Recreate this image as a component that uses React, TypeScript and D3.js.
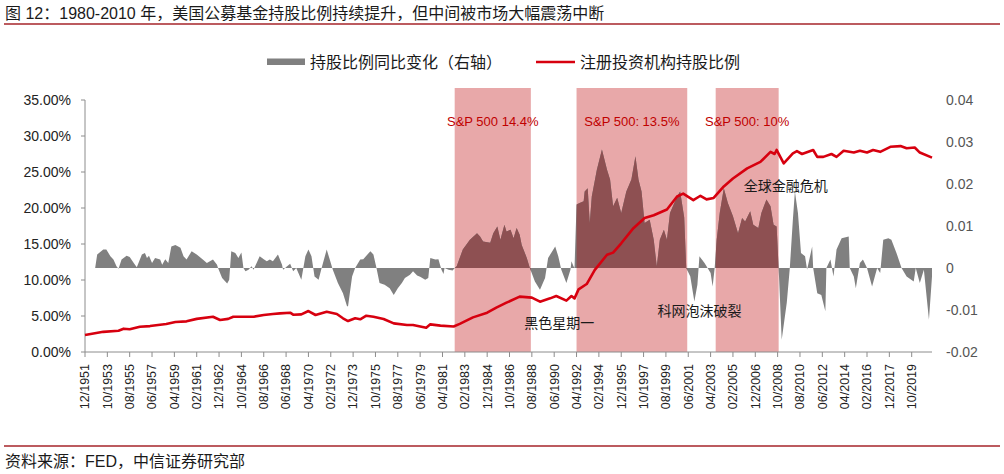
import React from "react";
import * as d3 from "d3";

const titleText = "图 12：1980-2010 年，美国公募基金持股比例持续提升，但中间被市场大幅震荡中断";
const sourceText = "资料来源：FED，中信证券研究部";
const legendLabels = ["持股比例同比变化（右轴）", "注册投资机构持股比例"];

const xTickLabels = [
  "12/1951", "10/1953", "08/1955", "06/1957", "04/1959", "02/1961", "12/1962", "10/1964",
  "08/1966", "06/1968", "04/1970", "02/1972", "12/1973", "10/1975", "08/1977", "06/1979",
  "04/1981", "02/1983", "12/1984", "10/1986", "08/1988", "06/1990", "04/1992", "02/1994",
  "12/1995", "10/1997", "08/1999", "06/2001", "04/2003", "02/2005", "12/2006", "10/2008",
  "08/2010", "06/2012", "04/2014", "02/2016", "12/2017", "10/2019",
];
const leftTicks = [0, 5, 10, 15, 20, 25, 30, 35];
const rightTicks = [-0.02, -0.01, 0, 0.01, 0.02, 0.03, 0.04];
const rightTickLabels = ["-0.02", "-0.01", "0", "0.01", "0.02", "0.03", "0.04"];

const periodStarts = ["1982-04", "1992-04", "2003-09"];
const periodEnds = ["1988-07", "2001-05", "2008-11"];
const periodLabels = ["S&P 500 14.4%", "S&P 500: 13.5%", "S&P 500: 10%"];

const eventDates = ["1990-11", "2002-05", "2009-06"];
const eventLevels = [4.0, 5.7, 23.05];
const eventLabels = ["黑色星期一", "科网泡沫破裂", "全球金融危机"];

// 注册投资机构持股比例 (%)
const shareDates = [
  "1951-12", "1953-06", "1954-09", "1955-02", "1955-08", "1956-06", "1957-04", "1958-08", "1959-05", "1960-04",
  "1961-02", "1962-06", "1963-01", "1963-09", "1964-02", "1965-10", "1966-08", "1967-05", "1967-12", "1968-10",
  "1969-01", "1969-09", "1970-04", "1970-11", "1971-10", "1972-08", "1973-02", "1973-07", "1974-02", "1974-07",
  "1975-01", "1975-08", "1976-06", "1977-04", "1978-05", "1978-11", "1979-12", "1980-04", "1981-02", "1982-03",
  "1982-09", "1983-10", "1984-12", "1985-09", "1986-07", "1987-08", "1988-08", "1989-04", "1990-02", "1990-08",
  "1991-06", "1991-11", "1992-02", "1992-06", "1993-02", "1993-10", "1994-10", "1995-04", "1995-12", "1996-12",
  "1997-11", "1998-08", "1999-09", "2000-07", "2001-01", "2001-11", "2002-06", "2002-12", "2003-07", "2004-05",
  "2005-02", "2006-04", "2007-05", "2008-03", "2008-07", "2008-09", "2009-04", "2010-01", "2010-05", "2010-10",
  "2011-09", "2012-01", "2012-07", "2013-03", "2013-08", "2014-03", "2015-01", "2015-07", "2016-02", "2016-08",
  "2017-03", "2018-01", "2018-11", "2019-05", "2020-01", "2020-06", "2021-06",
];
const shareValues = [
  2.36, 2.8, 2.96, 3.24, 3.15, 3.5, 3.6, 3.9, 4.17, 4.26,
  4.6, 4.9, 4.44, 4.6, 4.9, 4.9, 5.14, 5.28, 5.37, 5.46,
  5.18, 5.23, 5.69, 5.14, 5.6, 5.28, 4.68, 4.3, 4.68, 4.54,
  5.04, 4.9, 4.58, 3.98, 3.75, 3.75, 3.38, 3.84, 3.66, 3.55,
  3.9, 4.81, 5.46, 6.16, 6.85, 7.69, 7.55, 6.99, 7.45, 7.78,
  7.13, 7.78, 7.45, 8.7, 9.44, 11.4, 13.5, 13.8, 15.1, 17.2,
  18.6, 19.0, 19.8, 21.6, 22.0, 21.1, 21.7, 21.2, 21.4, 23.0,
  24.1, 25.5, 26.4, 27.8, 27.5, 28.06, 26.2, 27.6, 27.9, 27.5,
  28.06, 27.1, 27.1, 27.5, 27.1, 27.96, 27.7, 27.96, 27.7, 28.06,
  27.8, 28.5, 28.6, 28.3, 28.4, 27.7, 27.0,
];

// 持股比例同比变化 (右轴)
const yoyDates = [
  "1952-10", "1952-12", "1953-06", "1953-09", "1954-01", "1954-04", "1954-07", "1954-09", "1954-12", "1955-05",
  "1955-08", "1955-12", "1956-03", "1956-08", "1956-11", "1957-01", "1957-03", "1957-06", "1957-09", "1958-02",
  "1958-04", "1958-07", "1958-10", "1959-01", "1959-05", "1959-10", "1960-01", "1960-04", "1960-09", "1961-02",
  "1961-08", "1961-12", "1962-06", "1962-10", "1962-11", "1963-03", "1963-08", "1963-10", "1963-12", "1964-04",
  "1964-07", "1964-10", "1964-12", "1965-02", "1965-05", "1965-08", "1965-10", "1966-01", "1966-04", "1966-08",
  "1966-11", "1967-02", "1967-05", "1967-10", "1968-02", "1968-03", "1968-07", "1968-10", "1969-01", "1969-04",
  "1969-09", "1970-01", "1970-04", "1970-07", "1970-10", "1971-02", "1971-05", "1971-10", "1972-01", "1972-04",
  "1972-09", "1973-02", "1973-06", "1973-07", "1973-11", "1974-02", "1974-07", "1974-10", "1975-05", "1975-08",
  "1975-11", "1976-02", "1976-07", "1976-12", "1977-04", "1977-08", "1977-12", "1978-03", "1978-08", "1978-11",
  "1979-03", "1979-06", "1979-11", "1980-02", "1980-03", "1980-04", "1980-09", "1980-12", "1981-03", "1981-05",
  "1981-06", "1981-10", "1982-02", "1982-04", "1982-06", "1982-12", "1983-07", "1984-02", "1984-05", "1984-08",
  "1985-03", "1985-06", "1985-10", "1986-01", "1986-05", "1986-07", "1986-11", "1987-02", "1987-05", "1987-08",
  "1987-10", "1988-03", "1988-06", "1988-11", "1989-04", "1989-09", "1989-12", "1990-07", "1990-10", "1991-01",
  "1991-06", "1991-10", "1991-11", "1992-01", "1992-02", "1992-04", "1992-07", "1992-11", "1992-12", "1993-03",
  "1993-05", "1993-07", "1993-12", "1994-05", "1994-10", "1995-01", "1995-04", "1995-08", "1995-12", "1996-05",
  "1996-10", "1997-02", "1997-05", "1997-08", "1997-11", "1998-04", "1998-08", "1998-11", "1999-02", "1999-06",
  "1999-09", "1999-12", "2000-07", "2000-10", "2001-02", "2001-04", "2001-08", "2001-12", "2002-03", "2002-05",
  "2002-10", "2002-12", "2003-04", "2003-06", "2003-08", "2003-10", "2004-01", "2004-05", "2004-09", "2005-02",
  "2005-07", "2005-11", "2006-02", "2006-07", "2006-10", "2007-03", "2007-06", "2007-11", "2008-03", "2008-06",
  "2008-09", "2008-11", "2009-02", "2009-07", "2009-10", "2010-01", "2010-03", "2010-06", "2010-09", "2011-01",
  "2011-03", "2011-08", "2011-09", "2012-01", "2012-05", "2012-09", "2012-10", "2013-02", "2013-05", "2013-08",
  "2014-01", "2014-08", "2014-09", "2015-01", "2015-03", "2015-07", "2015-10", "2016-02", "2016-07", "2016-12",
  "2017-03", "2017-06", "2017-11", "2018-02", "2018-07", "2018-12", "2019-05", "2019-12", "2020-02", "2020-06",
  "2020-10", "2021-03", "2021-06",
];
const yoyValues = [
  0, 0.0032, 0.0044, 0.0044, 0.0028, 0.002, 0.0004, -0.0002, 0.002, 0.0029,
  0.0026, 0.0012, 0.0002, 0.0032, 0.0036, 0.0024, 0.0029, 0.0012, 0.0024, 0.002,
  0.0008, 0.0021, 0.0012, 0.0051, 0.0055, 0.0048, 0.0028, 0.002, 0.004, 0.0032,
  0.002, 0.0012, 0.002, 0.0008, 0, -0.0024, -0.0037, -0.0028, 0.004, 0.0036,
  0.0024, 0.0037, 0, -0.0008, -0.0004, 0.0004, -0.0004, 0.0012, 0.0028, 0.0021,
  0.0016, 0.002, 0.0016, 0.0032, 0.0008, -0.0004, 0.0004, 0.001, -0.0008, 0,
  -0.0028, 0.0028, 0.0044, 0.0028, -0.002, -0.0028, 0, 0.0044, 0.002, -0.0004,
  -0.0036, -0.006, -0.0091, -0.0091, -0.002, 0, 0.002, 0.0021, 0.004, 0.0032,
  0, -0.0036, -0.004, -0.0048, -0.0064, -0.0048, -0.0036, -0.0024, -0.0016, -0.0008,
  -0.0018, -0.0021, -0.0028, -0.0024, 0, 0.0024, 0.002, 0.0021, -0.0004, -0.0014,
  0, -0.0004, -0.0006, 0, 0.0004, 0.0044, 0.0067, 0.0083, 0.0075, 0.0063,
  0.006, 0.0083, 0.0099, 0.0067, 0.0103, 0.0087, 0.0091, 0.0071, 0.0095, 0.0079,
  0.0055, 0.0024, 0, -0.0032, -0.0052, -0.0024, 0.0024, 0.0051, 0.0028, -0.0004,
  -0.0036, -0.0004, 0.0016, 0.0004, 0, 0.0151, 0.0155, 0.0159, 0.0182, 0.019,
  0.0107, 0.017, 0.0234, 0.0282, 0.0234, 0.0211, 0.0147, 0.0167, 0.0131, 0.0182,
  0.0211, 0.0266, 0.0211, 0.0182, 0.0107, 0.0115, 0.0067, 0.0004, 0.0067, 0.0091,
  0.0067, 0.0131, 0.017, 0.0182, 0.012, 0, -0.002, -0.008, -0.004, 0.0028,
  0.0012, 0.0004, -0.0012, -0.0044, 0, 0.0067, 0.0131, 0.019, 0.0155, 0.0123,
  0.0083, 0.0119, 0.0111, 0.0135, 0.0103, 0.0095, 0.0131, 0.0163, 0.0147, 0.0103,
  0.0099, 0, -0.0171, -0.0083, 0, 0.0115, 0.0182, 0.0131, 0.0036, 0.0028,
  -0.0004, 0.0051, 0, -0.006, -0.0064, -0.0103, 0, 0.002, -0.002, 0.0044,
  0.0071, 0.0075, 0, -0.002, -0.0048, 0.0012, 0.002, 0, -0.0044, 0,
  -0.0012, 0.0067, 0.0071, 0.0067, 0.0036, 0, -0.002, -0.0032, 0, -0.0036,
  -0.0004, -0.0123, -0.002,
];

const monthIndex = (s: string) => {
  const [y, m] = s.split("-").map(Number);
  return (y - 1951) * 12 + (m - 12);
};
const tickIndex = (s: string) => {
  const [m, y] = s.split("/").map(Number);
  return (y - 1951) * 12 + (m - 12);
};

const FONT = "'Liberation Sans', Arial, 'Noto Sans CJK SC', sans-serif";
const CJK = "'Noto Sans CJK SC', 'Liberation Sans', sans-serif";

export default function App() {
  const W = 1004;
  const H = 474;
  const x = d3.scaleLinear().domain([0, 834]).range([85, 932]);
  const yL = d3.scaleLinear().domain([0, 35]).range([352, 100]);
  const yR = d3.scaleLinear().domain([-0.02, 0.04]).range([352, 100]);

  const share = shareDates.map((d, i) => ({ m: monthIndex(d), v: shareValues[i] }));
  const yoy = yoyDates.map((d, i) => ({ m: monthIndex(d), v: yoyValues[i] }));

  const area = d3
    .area<{ m: number; v: number }>()
    .x((d) => x(d.m))
    .y0(yR(0))
    .y1((d) => yR(d.v));
  const line = d3
    .line<{ m: number; v: number }>()
    .x((d) => x(d.m))
    .y((d) => yL(d.v));

  const periods = periodStarts.map((s, i) => ({
    x0: x(monthIndex(s)),
    x1: x(monthIndex(periodEnds[i])),
    label: periodLabels[i],
  }));
  const pinkTop = yL(35) - 12;
  const fmtL = d3.format(".2f");

  return (
    <svg
      width={W}
      height={H}
      viewBox={`0 0 ${W} ${H}`}
      style={{ position: "absolute", left: 0, top: 0, background: "#fff", display: "block" }}
    >
      <rect x={0} y={0} width={W} height={H} fill="#fff" />
      {/* title */}
      <text x={5} y={13} dy="0.35em" fontFamily={FONT} fontSize={16} fill="#1a1a1a">
        {titleText}
      </text>
      <line x1={4} x2={1000} y1={24} y2={24} stroke="#A6242A" strokeWidth={1.3} />

      {/* legend */}
      <rect x={267} y={58.5} width={38} height={6.5} fill="#808080" />
      <text x={310} y={62} dy="0.35em" fontFamily={CJK} fontSize={16} fill="#1a1a1a">
        {legendLabels[0]}
      </text>
      <line x1={536} x2={575} y1={62} y2={62} stroke="#D7000F" strokeWidth={2.5} />
      <text x={580} y={62} dy="0.35em" fontFamily={CJK} fontSize={16} fill="#1a1a1a">
        {legendLabels[1]}
      </text>

      <defs>
        <clipPath id="pinkClip">
          {periods.map((p, i) => (
            <rect key={i} x={p.x0} y={pinkTop} width={p.x1 - p.x0} height={yL(0) - pinkTop} />
          ))}
        </clipPath>
      </defs>

      {/* shaded periods */}
      {periods.map((p, i) => (
        <rect key={i} x={p.x0} y={pinkTop} width={p.x1 - p.x0} height={yL(0) - pinkTop} fill="#E8A8A9" />
      ))}

      {/* yoy area */}
      <path d={area(yoy) || ""} fill="#808080" />
      <path d={area(yoy) || ""} fill="#8E5052" clipPath="url(#pinkClip)" />

      {/* axes */}
      <line x1={85} x2={85} y1={yL(35)} y2={yL(0)} stroke="#8c8c8c" strokeWidth={1} />
      {leftTicks.map((t) => (
        <g key={t}>
          <line x1={81} x2={85} y1={yL(t)} y2={yL(t)} stroke="#8c8c8c" />
          <text
            x={71}
            y={yL(t)}
            dy="0.35em"
            textAnchor="end"
            fontFamily={FONT}
            fontSize={14}
            fill="#222"
          >
            {fmtL(t) + "%"}
          </text>
        </g>
      ))}
      {rightTicks.map((t, i) => (
        <text key={t} x={946} y={yR(t)} dy="0.35em" fontFamily={FONT} fontSize={14} fill="#555">
          {rightTickLabels[i]}
        </text>
      ))}
      <line x1={85} x2={932} y1={yL(0)} y2={yL(0)} stroke="#8c8c8c" strokeWidth={1} />
      {xTickLabels.map((lab) => {
        const px = x(tickIndex(lab));
        return (
          <g key={lab}>
            <line x1={px} x2={px} y1={352} y2={357} stroke="#8c8c8c" />
            <text
              transform={`translate(${px},364) rotate(-90)`}
              dy="0.35em"
              textAnchor="end"
              fontFamily={FONT}
              fontSize={12.5}
              fill="#222"
            >
              {lab}
            </text>
          </g>
        );
      })}

      {/* share line */}
      <path d={line(share) || ""} fill="none" stroke="#D7000F" strokeWidth={2.6} strokeLinejoin="round" />

      {/* period labels */}
      {periods.map((p, i) => (
        <text
          key={i}
          x={(p.x0 + p.x1) / 2}
          y={yL(32)}
          dy="0.35em"
          textAnchor="middle"
          fontFamily={FONT}
          fontSize={13}
          fill="#C00000"
        >
          {p.label}
        </text>
      ))}

      {/* event annotations */}
      {eventDates.map((d, i) => (
        <text
          key={i}
          x={x(monthIndex(d))}
          y={yL(eventLevels[i])}
          dy="0.35em"
          textAnchor="middle"
          fontFamily={CJK}
          fontSize={14}
          fill="#1a1a1a"
        >
          {eventLabels[i]}
        </text>
      ))}

      {/* footer */}
      <line x1={4} x2={1000} y1={446} y2={446} stroke="#A6242A" strokeWidth={1.3} />
      <text x={5} y={461} dy="0.35em" fontFamily={FONT} fontSize={16} fill="#1a1a1a">
        {sourceText}
      </text>
    </svg>
  );
}
